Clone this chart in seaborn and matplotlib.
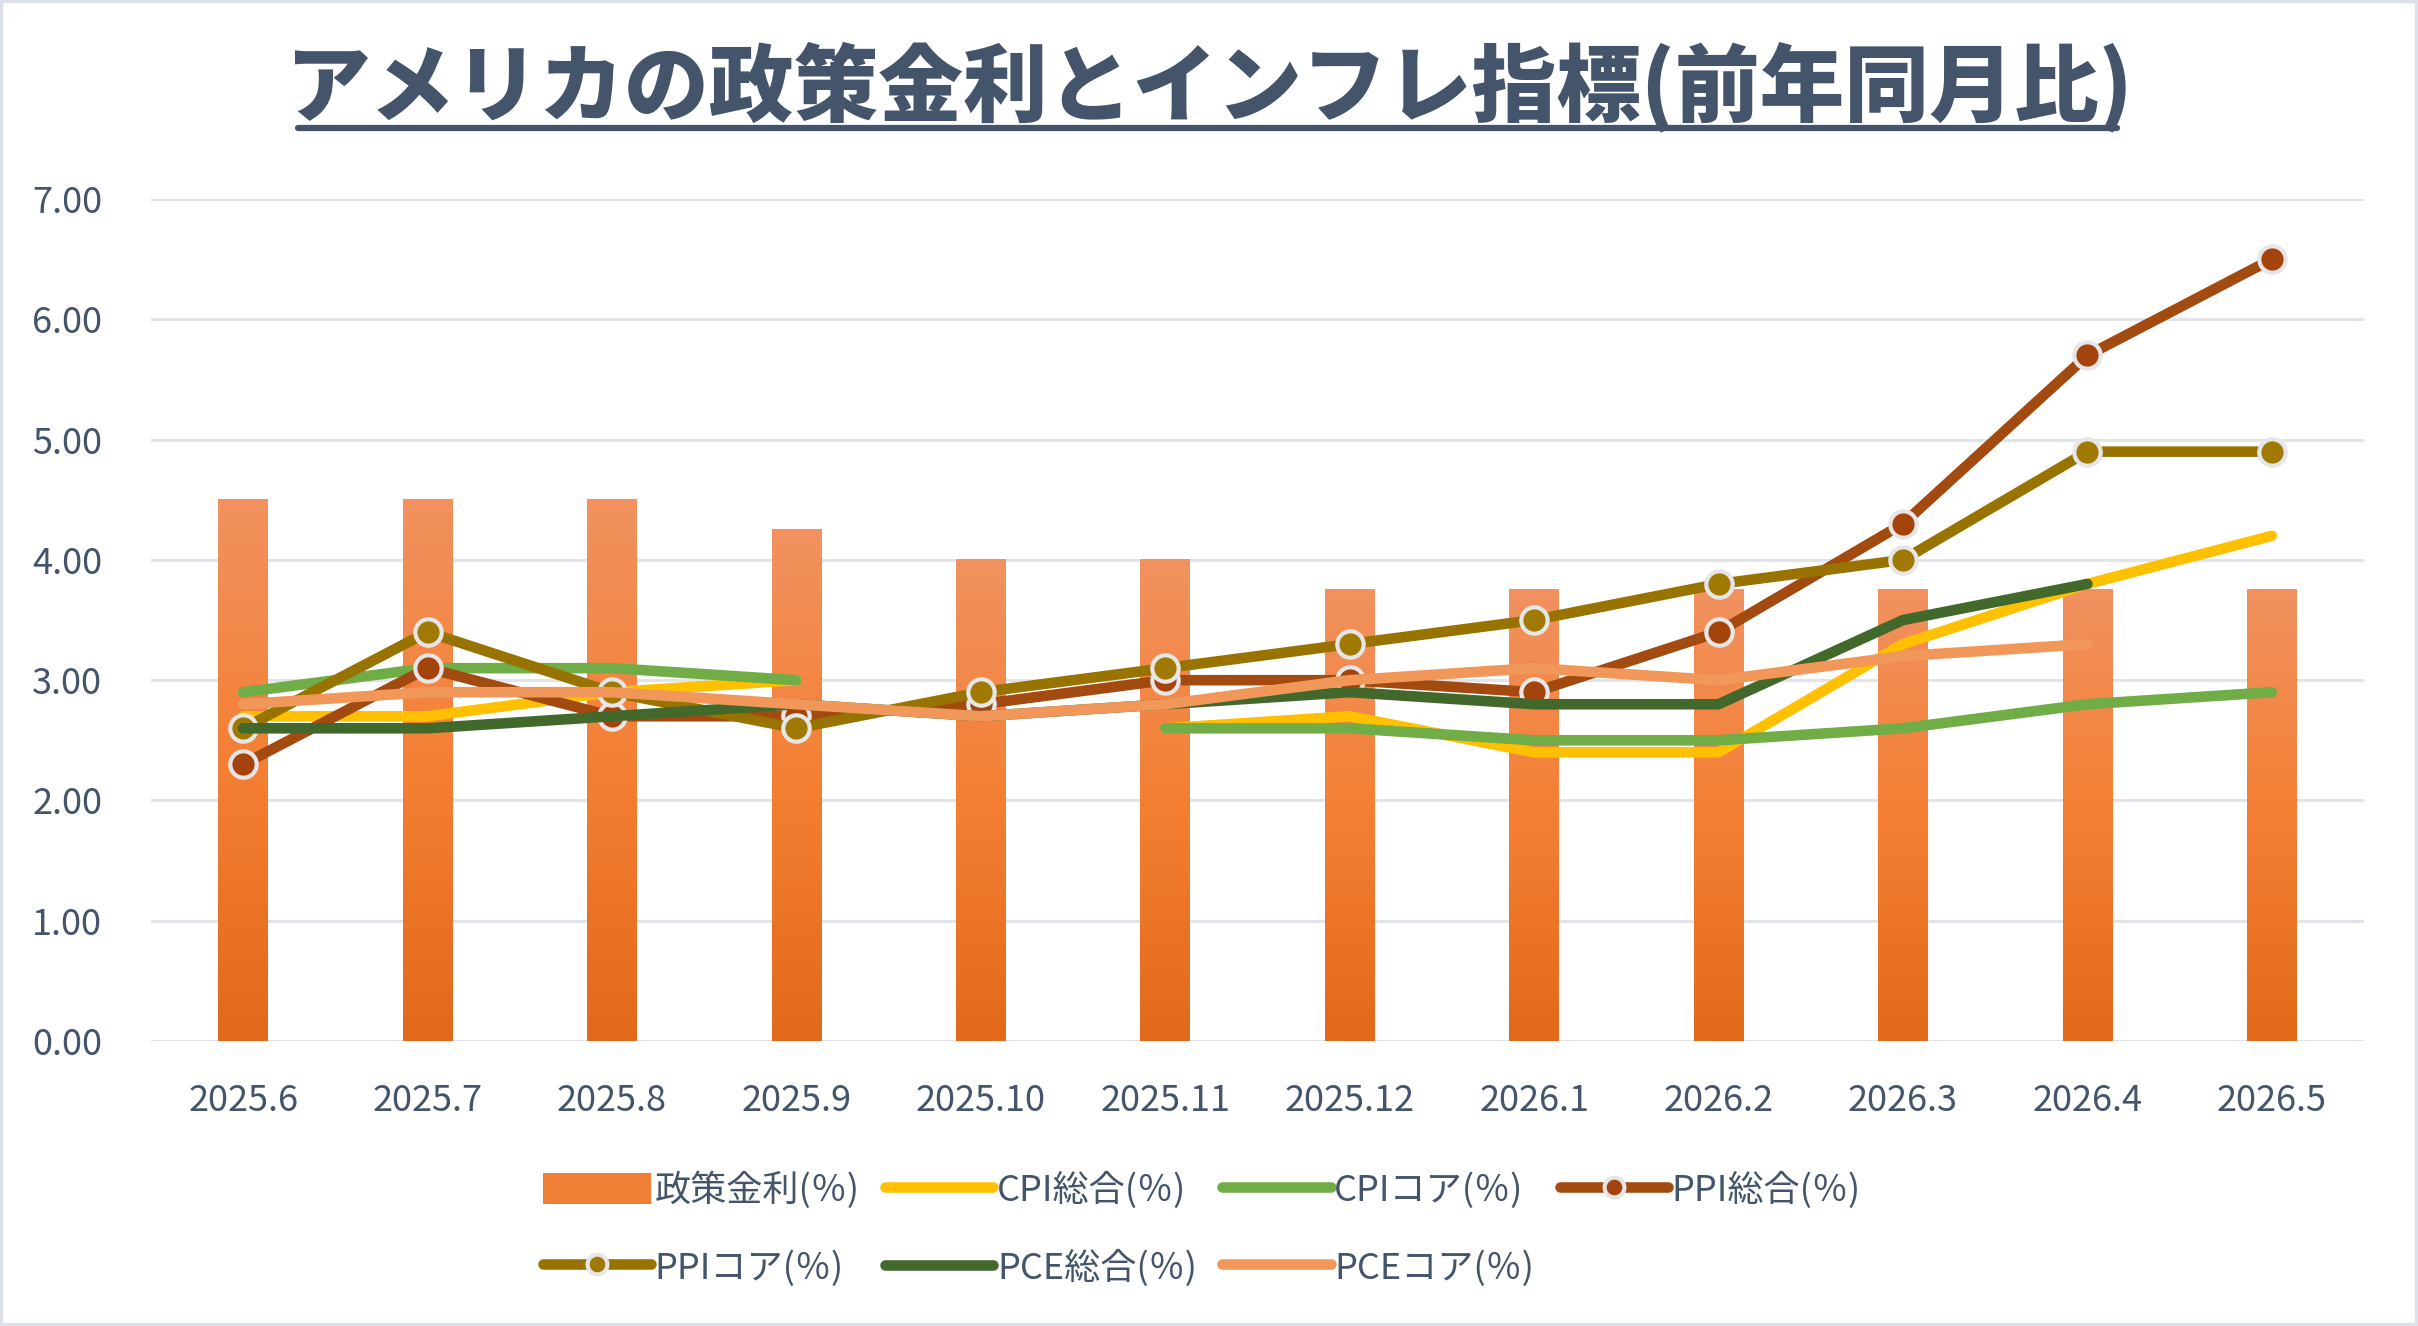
import matplotlib
matplotlib.use("Agg")
import matplotlib.pyplot as plt
import matplotlib.patches as mpatches
from matplotlib.colors import LinearSegmentedColormap
from matplotlib.lines import Line2D
import numpy as np
import pandas as pd
import seaborn as sns

months = ["2025.6", "2025.7", "2025.8", "2025.9", "2025.10", "2025.11",
          "2025.12", "2026.1", "2026.2", "2026.3", "2026.4", "2026.5"]
policy_rate = [4.50, 4.50, 4.50, 4.25, 4.00, 4.00, 3.75, 3.75, 3.75, 3.75, 3.75, 3.75]
cpi_all = [2.7, 2.7, 2.9, 3.0, np.nan, 2.6, 2.7, 2.4, 2.4, 3.3, 3.8, 4.2]
cpi_core = [2.9, 3.1, 3.1, 3.0, np.nan, 2.6, 2.6, 2.5, 2.5, 2.6, 2.8, 2.9]
ppi_all = [2.3, 3.1, 2.7, 2.7, 2.8, 3.0, 3.0, 2.9, 3.4, 4.3, 5.7, 6.5]
ppi_core = [2.6, 3.4, 2.9, 2.6, 2.9, 3.1, 3.3, 3.5, 3.8, 4.0, 4.9, 4.9]
pce_all = [2.6, 2.6, 2.7, 2.8, 2.7, 2.8, 2.9, 2.8, 2.8, 3.5, 3.8, np.nan]
pce_core = [2.8, 2.9, 2.9, 2.8, 2.7, 2.8, 3.0, 3.1, 3.0, 3.2, 3.3, np.nan]

title = "アメリカの政策金利とインフレ指標(前年同月比)"
text_col = "#44546A"
grid_col = "#E1E5EB"

sns.set_theme(style="white")
plt.rcParams["font.family"] = ["Noto Sans CJK JP", "DejaVu Sans"]

fig = plt.figure(figsize=(24.18, 13.26), dpi=100)
ax = fig.add_axes([0.0624, 0.2149, 0.9153, 0.635])

df = pd.DataFrame({"month": months, "rate": policy_rate})
sns.barplot(data=df, x="month", y="rate", width=0.27, color="#F07F36", ax=ax, zorder=2)

# gradient fill per bar (light top -> dark bottom)
bar_cmap = LinearSegmentedColormap.from_list("bar", ["#E2691A", "#F47F33", "#F19260"])
grad = np.linspace(0, 1, 256).reshape(-1, 1)
for p in ax.patches:
    x0, w, h = p.get_x(), p.get_width(), p.get_height()
    ax.imshow(grad, extent=[x0, x0 + w, 0, h], aspect="auto", cmap=bar_cmap,
              origin="lower", zorder=2)
    p.set_visible(False)

xs = np.arange(len(months))
lw = 7.6
series = [
    ("CPI総合(％)", cpi_all, "#FFC000", None),
    ("CPIコア(％)", cpi_core, "#70AD47", None),
    ("PPI総合(％)", ppi_all, "#A24A10", "#A5430D"),
    ("PPIコア(％)", ppi_core, "#997300", "#A07A05"),
    ("PCE総合(％)", pce_all, "#43682B", None),
    ("PCEコア(％)", pce_core, "#F1975A", None),
]
handles = {}
for i, (name, vals, col, mcol) in enumerate(series):
    if mcol:
        ln, = ax.plot(xs, vals, color=col, lw=lw, marker="o", ms=19,
                      mfc=mcol, mec="#E6E6E6", mew=3, solid_capstyle="round",
                      zorder=3 + i, label=name)
    else:
        ln, = ax.plot(xs, vals, color=col, lw=lw, solid_capstyle="round",
                      zorder=3 + i, label=name)
    handles[name] = ln

ax.set_xlim(-0.5, len(months) - 0.5)
ax.set_ylim(0, 7)
ax.set_yticks(np.arange(0, 7.01, 1))
ax.set_yticklabels([f"{v:.2f}" for v in np.arange(0, 7.01, 1)])
ax.yaxis.grid(True, color=grid_col, lw=2.2, zorder=0)
ax.xaxis.grid(False)
ax.set_axisbelow(True)
for s in ax.spines.values():
    s.set_visible(False)
ax.axhline(0, color=grid_col, lw=2.2, zorder=1)
ax.set_xlabel("")
ax.set_ylabel("")
ax.tick_params(axis="y", length=0, pad=35, labelsize=26, labelcolor=text_col)
ax.tick_params(axis="x", length=0, pad=30, labelsize=26, labelcolor=text_col)

# title with underline
fig.text(0.5, 0.934, title, ha="center", va="center", fontsize=61,
         fontweight="heavy", color=text_col)
fig.add_artist(Line2D([298 / 2418, 2117 / 2418], [1 - 128 / 1326] * 2,
                      transform=fig.transFigure, color=text_col, lw=4.5))

# legend (row-major order)
bar_handle = mpatches.Patch(facecolor="#F07F36", edgecolor="none")
order = [(bar_handle, "政策金利(％)"),
         (handles["PPIコア(％)"], "PPIコア(％)"),
         (handles["CPI総合(％)"], "CPI総合(％)"),
         (handles["PCE総合(％)"], "PCE総合(％)"),
         (handles["CPIコア(％)"], "CPIコア(％)"),
         (handles["PCEコア(％)"], "PCEコア(％)"),
         (handles["PPI総合(％)"], "PPI総合(％)")]
leg = fig.legend([h for h, _ in order], [l for _, l in order], ncol=4,
                 loc="center", bbox_to_anchor=(0.497, 0.073), frameon=False,
                 fontsize=26, handlelength=3.0, handleheight=0.95,
                 handletextpad=0.1, columnspacing=0.7, labelspacing=1.15,
                 markerscale=0.75)
for t in leg.get_texts():
    t.set_color(text_col)

# outer chart border
fig.add_artist(mpatches.Rectangle((0, 0), 1, 1, transform=fig.transFigure,
                                  fill=False, ec="#DCE1E8", lw=4.5))

fig.savefig("out.png", dpi=100)
